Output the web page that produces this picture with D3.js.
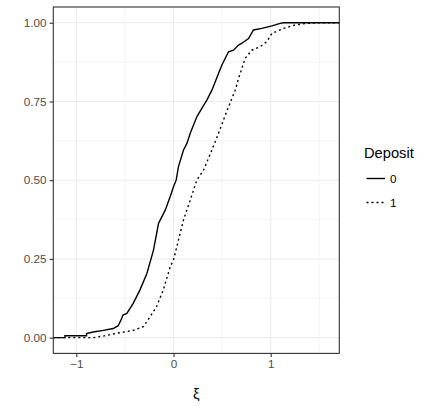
<!DOCTYPE html>
<html><head><meta charset="utf-8">
<script src="https://cdn.jsdelivr.net/npm/d3@7"></script>
<style>body{margin:0;background:#fff}svg{display:block;font-family:"Liberation Sans",Arial,sans-serif}</style>
</head><body>
<svg id="chart" width="436" height="406"></svg>
<script>
// ECDF knots (xi value, cumulative proportion)
const groups = ["0", "1"];
const ecdf0X = [-1.117,-1.117,-0.895,-0.895,-0.826,-0.723,-0.62,-0.569,-0.535,-0.52,-0.48,-0.415,-0.346,-0.274,-0.206,-0.154,-0.085,-0.034,0.0,0.028,0.051,0.103,0.138,0.172,0.241,0.344,0.395,0.463,0.498,0.566,0.617,0.669,0.704,0.772,0.823,0.909,1.012,1.098,1.13];
const ecdf0Y = [0,0.006,0.006,0.013,0.018,0.023,0.029,0.038,0.06,0.072,0.077,0.109,0.151,0.204,0.278,0.363,0.405,0.448,0.479,0.501,0.543,0.596,0.617,0.649,0.702,0.755,0.786,0.839,0.866,0.908,0.913,0.929,0.935,0.95,0.977,0.982,0.99,0.998,1.0];
const ecdf1X = [-0.826,-0.723,-0.584,-0.413,-0.31,-0.24,-0.175,-0.106,-0.034,0,0.051,0.103,0.172,0.241,0.309,0.395,0.463,0.514,0.566,0.635,0.669,0.738,0.807,0.892,0.961,1.012,1.132,1.252,1.372,1.509];
const ecdf1Y = [0,0.005,0.014,0.023,0.035,0.067,0.098,0.151,0.225,0.247,0.31,0.374,0.437,0.501,0.532,0.596,0.649,0.691,0.733,0.786,0.823,0.887,0.913,0.924,0.94,0.966,0.982,0.993,0.998,1.0];
const xTicks = [-1, 0, 1];
const xMinor = [-0.5, 0.5, 1.5];
const yTicks = [0, 0.25, 0.5, 0.75, 1];
const yMinor = [0.125, 0.375, 0.625, 0.875];
const xDomain = [-1.237, 1.706];
const yDomain = [-0.05, 1.05];

const svg = d3.select("#chart");
const P = {l: 53.3, r: 339.3, t: 7, b: 353.4};
const x = d3.scaleLinear().domain(xDomain).range([P.l, P.r]);
const y = d3.scaleLinear().domain(yDomain).range([P.b, P.t]);

svg.append("rect").attr("width", 436).attr("height", 406).attr("fill", "#fff");
const g = svg.append("g");
// minor grid
xMinor.forEach(v => g.append("line").attr("x1", x(v)).attr("x2", x(v)).attr("y1", P.t).attr("y2", P.b).attr("stroke", "#ebebeb").attr("stroke-width", 0.55));
yMinor.forEach(v => g.append("line").attr("y1", y(v)).attr("y2", y(v)).attr("x1", P.l).attr("x2", P.r).attr("stroke", "#ebebeb").attr("stroke-width", 0.55));
// major grid
xTicks.forEach(v => g.append("line").attr("x1", x(v)).attr("x2", x(v)).attr("y1", P.t).attr("y2", P.b).attr("stroke", "#ebebeb").attr("stroke-width", 1.1));
yTicks.forEach(v => g.append("line").attr("y1", y(v)).attr("y2", y(v)).attr("x1", P.l).attr("x2", P.r).attr("stroke", "#ebebeb").attr("stroke-width", 1.1));

const series = [
  {key: groups[0], xs: ecdf0X, ys: ecdf0Y, dash: null},
  {key: groups[1], xs: ecdf1X, ys: ecdf1Y, dash: "2,3"}
];
const line = d3.line().x(d => x(d[0])).y(d => y(d[1]));
series.forEach(s => {
  const pts = [[xDomain[0], 0]].concat(s.xs.map((v, i) => [v, s.ys[i]]), [[xDomain[1], 1]]);
  g.append("path").datum(pts).attr("d", line).attr("fill", "none").attr("stroke", "#000")
    .attr("stroke-width", 1.4).attr("stroke-dasharray", s.dash);
});

// panel border
svg.append("rect").attr("x", P.l).attr("y", P.t).attr("width", P.r - P.l).attr("height", P.b - P.t)
  .attr("fill", "none").attr("stroke", "#333").attr("stroke-width", 1.1);

// axes
const xAxis = svg.append("g").attr("transform", `translate(0,${P.b})`)
  .call(d3.axisBottom(x).tickValues(xTicks).tickSize(3.7).tickPadding(3).tickFormat(d => d < 0 ? "\u2212" + Math.abs(d) : d));
const yAxis = svg.append("g").attr("transform", `translate(${P.l},0)`)
  .call(d3.axisLeft(y).tickValues(yTicks).tickSize(3.7).tickPadding(3).tickFormat(d3.format(".2f")));
[xAxis, yAxis].forEach(a => {
  a.select(".domain").remove();
  a.selectAll(".tick line").attr("stroke", "#333").attr("stroke-width", 1.1);
  a.selectAll(".tick text").attr("fill", "#4d4d4d").style("font-size", "11.7px");
});

svg.append("text").attr("x", (P.l + P.r) / 2).attr("y", 399).attr("text-anchor", "middle")
  .style("font-size", "14.7px").attr("fill", "#000").text("ξ");

// legend
const lg = svg.append("g");
lg.append("text").attr("x", 364).attr("y", 158).style("font-size", "14.7px").text("Deposit");
series.forEach((s, i) => {
  const cy = 178.5 + i * 24;
  lg.append("line").attr("x1", 366.5).attr("x2", 385).attr("y1", cy).attr("y2", cy)
    .attr("stroke", "#000").attr("stroke-width", 1.4).attr("stroke-dasharray", s.dash);
  lg.append("text").attr("x", 390).attr("y", cy + 4.2).style("font-size", "11.7px").text(s.key);
});
</script>
</body></html>
